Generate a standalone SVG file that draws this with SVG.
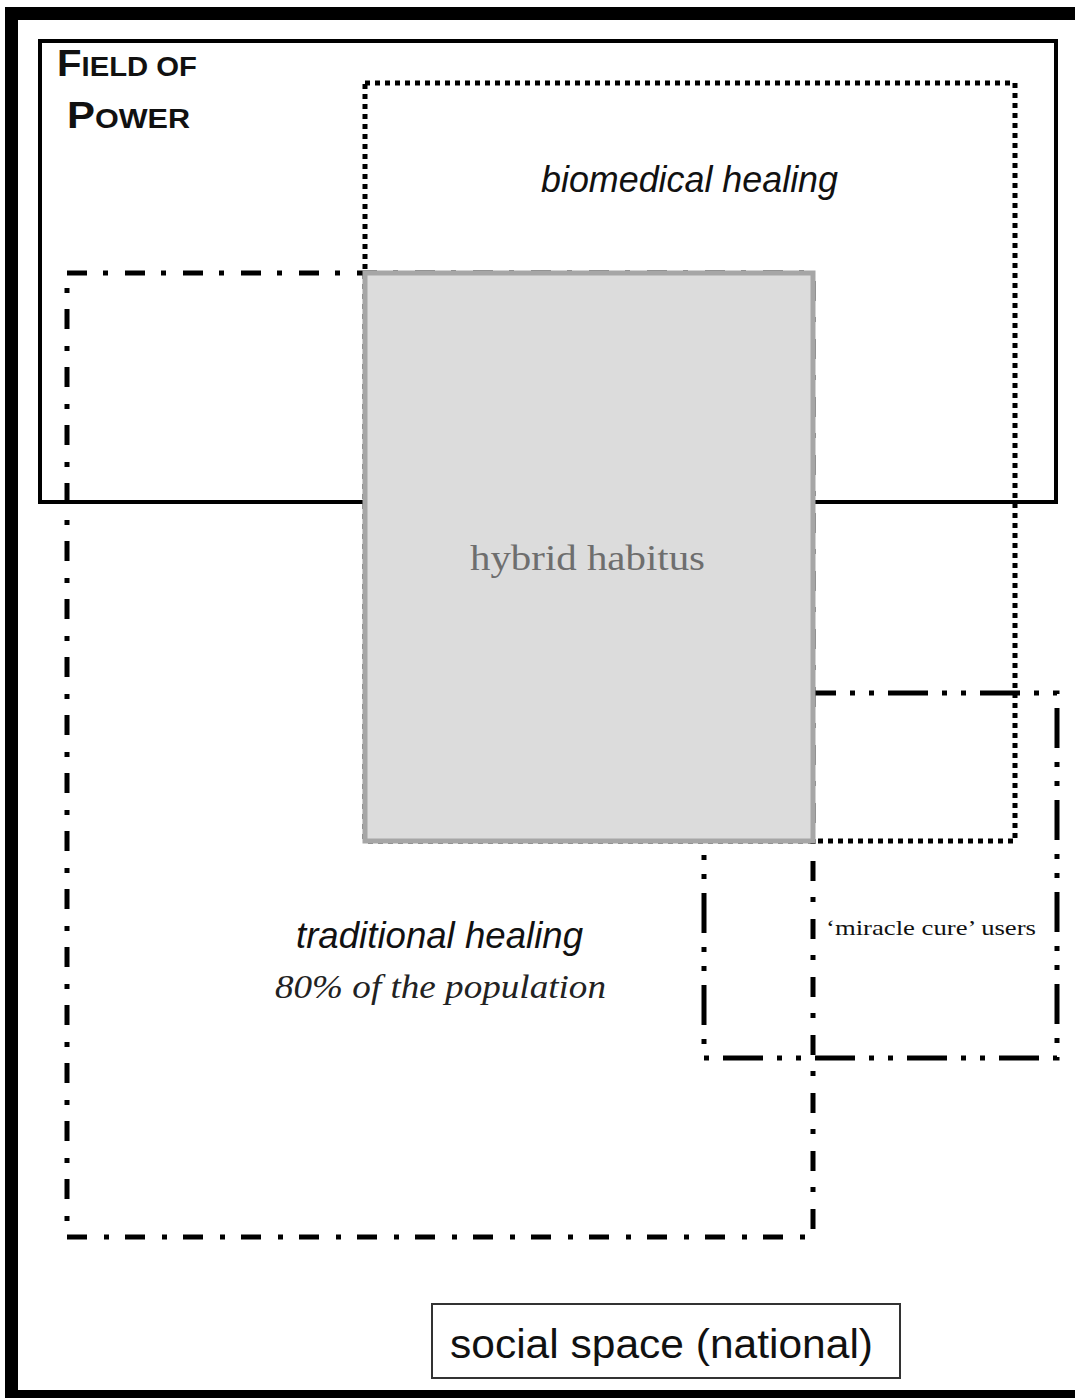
<svg xmlns="http://www.w3.org/2000/svg" width="1075" height="1398" viewBox="0 0 1075 1398">
<style>
.box{fill:none;stroke:#000}
.sans{font-family:"Liberation Sans","DejaVu Sans",sans-serif}
.serif{font-family:"Liberation Serif","DejaVu Serif",serif}
</style>
<rect width="1075" height="1398" fill="#fff"/>
<g id="social-space">
<rect class="box" x="11.5" y="13.5" width="1100" height="1383" stroke-width="13"/>
<rect x="432" y="1304" width="468" height="74" fill="#fff" stroke="#333" stroke-width="2"/>
<text class="sans" x="450" y="1358" font-size="40" textLength="423" lengthAdjust="spacingAndGlyphs" fill="#111">social space (national)</text>
</g>
<g id="field-of-power">
<rect class="box" x="40" y="41" width="1016" height="461" stroke-width="4"/>
<text class="sans" x="57" y="76" font-weight="bold" fill="#111" textLength="140" lengthAdjust="spacingAndGlyphs"><tspan font-size="37">F</tspan><tspan font-size="27">IELD OF</tspan></text>
<text class="sans" x="67" y="128" font-weight="bold" fill="#111" textLength="123" lengthAdjust="spacingAndGlyphs"><tspan font-size="37">P</tspan><tspan font-size="27">OWER</tspan></text>
</g>
<g id="biomedical-healing">
<rect class="box" x="365" y="83" width="650" height="758" stroke-width="5" stroke-dasharray="5 5"/>
<text class="sans" x="541" y="192" font-size="36" font-style="italic" textLength="297" lengthAdjust="spacingAndGlyphs" fill="#111">biomedical healing</text>
</g>
<g id="traditional-healing">
<rect class="box" x="67" y="273" width="746" height="964" stroke-width="5" stroke-dasharray="20 16 5 17"/>
<text class="sans" x="296" y="948" font-size="36" font-style="italic" textLength="287" lengthAdjust="spacingAndGlyphs" fill="#111">traditional healing</text>
<text class="serif" x="275" y="998" font-size="34" font-style="italic" textLength="331" lengthAdjust="spacingAndGlyphs" fill="#222">80% of  the population</text>
</g>
<g id="miracle-cure-users">
<rect class="box" x="704" y="693" width="353" height="365" stroke-width="5" stroke-dasharray="40 14 5 14 5 14"/>
<text class="serif" x="826" y="935" font-size="22" textLength="210" lengthAdjust="spacingAndGlyphs" fill="#111">‘miracle cure’ users</text>
</g>
<g id="hybrid-habitus">
<rect x="365" y="273" width="448" height="568" fill="#dcdcdc" stroke="#a6a6a6" stroke-width="5"/>
<text class="serif" x="470" y="570" font-size="36" textLength="235" lengthAdjust="spacingAndGlyphs" fill="#6e6e6e">hybrid habitus</text>
</g>
<g id="connectors"></g>
</svg>
